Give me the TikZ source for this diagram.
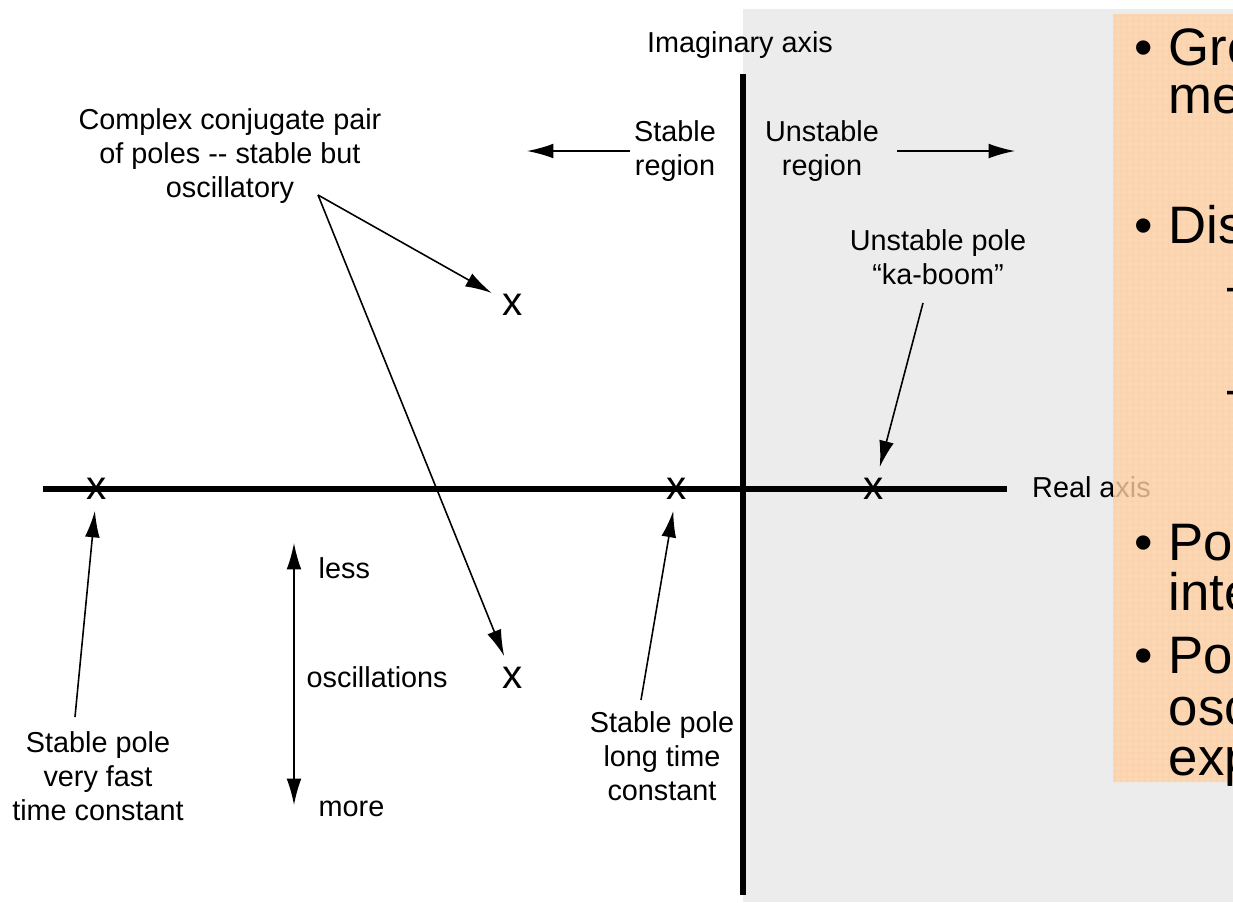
\documentclass[tikz,border=0pt]{standalone}
\usepackage{fontspec}
\setmainfont{Liberation Sans}
\usetikzlibrary{arrows.meta}
\definecolor{regiongray}{HTML}{ECECEC}
\definecolor{slideorange}{HTML}{FFD2A6}
\definecolor{gridorange}{HTML}{FFC995}
\tikzset{
    lbl/.style={align=center, font=\fontsize{8.2}{9.6}\selectfont, inner sep=1pt},
    pole/.style={font=\fontsize{11.5}{12}\selectfont, inner sep=3pt},
    pt/.style={-{Latex[length=7.5pt,width=4.2pt]}, line width=0.45pt},
    axis/.style={line width=1.75pt},
    slide/.style={font=\fontsize{15}{15}\selectfont, anchor=base west, inner sep=0pt},
}
\begin{document}
\begin{tikzpicture}
    \useasboundingbox (-7.43,-4.13) rectangle (4.90,4.89);
    \clip (-7.43,-4.13) rectangle (4.90,4.89);
    % right half plane
    \fill[regiongray] (0,-4.13) rectangle (4.90,4.80);
    \draw[axis] (-7.00,0) -- (2.64,0);
    \draw[axis] (0,4.15) -- (0,-4.06);
    \node[lbl] (imag) at (-0.03,4.44) {Imaginary axis};
    \node[lbl, anchor=base west] (real) at (2.85,-0.08) {Real axis};
    % poles
    \node[pole] (pfast) at (-6.46,0) {x};
    \node[pole] (pslow) at (-0.66,0) {x};
    \node[pole] (punst) at (1.31,0) {x};
    \node[pole] (pup) at (-2.30,1.84) {x};
    \node[pole] (plow) at (-2.30,-1.89) {x};
    % regions
    \node[lbl] (stab) at (-0.68,3.38) {Stable\\region};
    \node[lbl] (unst) at (0.79,3.38) {Unstable\\region};
    \coordinate (lefttip) at (-2.16,3.38);
    \coordinate (righttip) at (2.72,3.38);
    \draw[pt] (stab) -- (lefttip);
    \draw[pt, shorten <=4pt] (unst) -- (righttip);
    % annotations
    \node[lbl] (cpx) at (-5.13,3.33) {Complex conjugate pair\\of poles -{}- stable but\\oscillatory};
    \coordinate (cpxtail) at (-4.25,2.94);
    \draw[pt] (cpxtail) -- (pup);
    \draw[pt] (cpxtail) -- (plow);
    \node[lbl] (unstlbl) at (1.95,2.32) {Unstable pole\\“ka-boom”};
    \coordinate (unsttail) at (1.80,1.86);
    \draw[pt] (unsttail) -- (punst);
    \node[lbl] (fastlbl) at (-6.45,-2.87) {Stable pole\\very fast\\time constant};
    \coordinate (fasttail) at (-6.68,-2.28);
    \draw[pt] (fasttail) -- (pfast);
    \node[lbl] (slowlbl) at (-0.81,-2.67) {Stable pole\\long time\\constant};
    \coordinate (slowtail) at (-1.02,-2.11);
    \draw[pt] (slowtail) -- (pslow);
    % oscillations scale
    \coordinate (osctop) at (-4.49,-0.54);
    \coordinate (oscbot) at (-4.49,-3.16);
    \draw[{Latex[length=7.5pt,width=4.2pt]}-{Latex[length=7.5pt,width=4.2pt]}, line width=0.45pt] (osctop) -- (oscbot);
    \node[lbl, anchor=west] (less) at (-4.285,-0.79) {less};
    \node[lbl, anchor=west] (osc) at (-4.405,-1.88) {oscillations};
    \node[lbl, anchor=west] (more) at (-4.285,-3.20) {more};
    % slide text box on top
    \begin{scope}[opacity=0.8, transparency group]
        \fill[slideorange] (3.70,-2.93) rectangle (4.90,4.75);
        \draw[gridorange, line width=0.15pt] (3.70,-2.93) grid[step=0.06] (4.90,4.75);
    \end{scope}
    \node[slide] (b1) at (3.91,4.24) {•};
    \node[slide] (t1) at (4.25,4.24) {Gre};
    \node[slide] (t1b) at (4.25,3.76) {me};
    \node[slide] (b2) at (3.91,2.46) {•};
    \node[slide] (t2) at (4.25,2.46) {Dis};
    \node[slide] (d1) at (4.84,1.86) {–};
    \node[slide] (d2) at (4.84,0.83) {–};
    \node[slide] (b3) at (3.91,-0.71) {•};
    \node[slide] (t3) at (4.25,-0.71) {Po};
    \node[slide] (t3b) at (4.25,-1.21) {inte};
    \node[slide] (b4) at (3.91,-1.84) {•};
    \node[slide] (t4) at (4.25,-1.84) {Po};
    \node[slide] (t4b) at (4.25,-2.36) {osc};
    \node[slide] (t4c) at (4.25,-2.86) {exp};
\end{tikzpicture}
\end{document}
